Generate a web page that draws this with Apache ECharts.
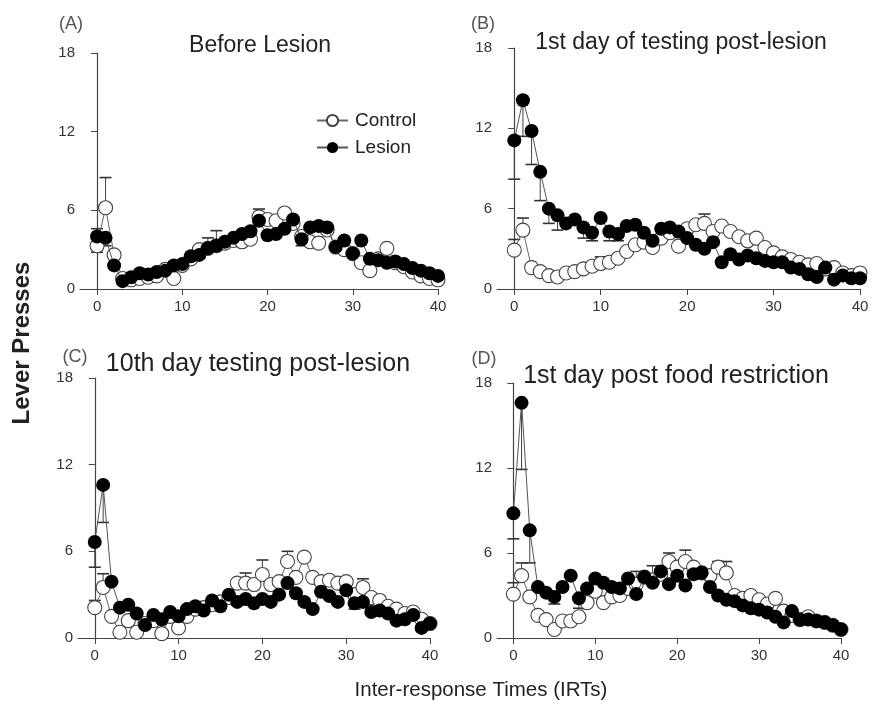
<!DOCTYPE html>
<html><head><meta charset="utf-8">
<script src="https://cdn.jsdelivr.net/npm/echarts@6/dist/echarts.min.js"></script>
<style>html,body{margin:0;padding:0;background:#fff}#c{width:873px;height:714px}</style>
</head><body><div id="c"></div>
<script>
const irt = [0,1,2,3,4,5,6,7,8,9,10,11,12,13,14,15,16,17,18,19,20,21,22,23,24,25,26,27,28,29,30,31,32,33,34,35,36,37,38,39,40];
const xTicks = [0,10,20,30,40];
const yTicks = [0,6,12,18];
const panelLetters = ['(A)','(B)','(C)','(D)'];
const panelTitles = ['Before Lesion','1st day of testing post-lesion','10th day testing post-lesion','1st day post food restriction'];

// Panel A
const aControl = [3.3,6.2,2.6,0.8,0.7,0.8,0.9,1.0,1.5,0.8,1.8,2.3,3.0,3.1,3.3,3.5,3.7,3.6,3.8,5.5,5.3,5.2,5.8,5.0,4.0,3.6,3.5,4.5,3.2,3.0,2.7,2.0,1.4,2.3,3.1,2.0,1.7,1.3,1.0,0.8,0.7];
const aLesion  = [4.0,3.9,1.8,0.6,0.9,1.2,1.1,1.3,1.4,1.8,1.9,2.5,2.6,3.1,3.3,3.6,3.9,4.2,4.4,5.2,4.1,4.2,4.6,5.3,3.8,4.7,4.8,4.7,3.2,3.7,2.7,3.7,2.3,2.2,2.0,2.1,1.9,1.6,1.4,1.2,1.0];
// Panel B
const bControl = [2.9,4.4,1.6,1.3,1.0,0.9,1.2,1.3,1.5,1.7,1.9,2.0,2.3,2.8,3.3,3.5,3.1,3.8,4.2,3.2,4.5,4.8,4.9,4.3,4.7,4.3,3.9,3.6,3.8,3.1,2.7,2.4,2.2,2.0,1.8,1.9,1.5,1.6,1.2,1.0,1.2];
const bLesion  = [11.1,14.1,11.8,8.75,6.0,5.5,4.9,5.2,4.6,4.2,5.3,4.3,4.1,4.7,4.8,4.2,3.6,4.5,4.6,4.3,3.8,3.3,3.0,3.5,2.0,2.6,2.2,2.5,2.3,2.1,2.0,2.0,1.6,1.5,1.1,0.9,1.6,0.7,1.0,0.8,0.8];
// Panel C
const cControl = [2.1,3.5,1.5,0.4,1.2,0.4,1.0,1.2,0.3,1.5,0.7,1.5,2.0,2.1,2.3,2.5,2.8,3.8,3.8,3.7,4.4,3.7,3.9,5.3,4.2,5.6,4.2,3.9,4.0,3.8,3.9,3.0,3.5,2.8,2.6,2.2,2.0,1.7,1.8,1.3,1.0];
const cLesion  = [6.65,10.6,3.9,2.1,2.3,1.7,0.9,1.6,1.3,1.8,1.5,2.0,2.2,1.9,2.6,2.2,3.0,2.5,2.7,2.4,2.7,2.5,3.0,3.8,3.1,2.5,2.0,3.2,2.9,2.5,3.3,2.4,2.5,1.8,1.9,1.7,1.2,1.3,1.6,0.7,1.0];
// Panel D
const dControl = [3.1,4.4,2.9,1.6,1.3,0.6,1.2,1.2,1.5,2.5,3.3,2.5,2.9,3.0,3.5,3.8,4.3,4.1,4.5,5.4,5.0,5.4,5.0,4.6,4.4,5.0,4.6,3.0,2.8,3.0,2.7,2.4,2.8,1.9,1.6,1.3,1.5,1.2,1.1,0.9,0.6];
const dLesion  = [8.8,16.6,7.6,3.6,3.2,2.9,3.6,4.4,2.8,3.5,4.2,3.9,3.6,3.5,4.2,3.1,4.3,3.9,4.7,3.8,4.4,3.7,4.5,4.6,3.6,3.0,2.7,2.6,2.3,2.1,2.0,1.8,1.5,1.1,1.9,1.3,1.3,1.2,1.1,0.9,0.6];

// visible error-bar ends: [irt, end value]
const aCtrlErr = [[1,8.5],[22,6.0]];
const aLesErr  = [[0,4.6],[0,2.8],[1,3.3],[13,3.9],[14,4.45],[19,6.1],[24,3.3]];
const bCtrlErr = [[0,3.7],[1,5.3],[10,2.4],[13,3.0],[22,5.6]];
const bLesErr  = [[0,8.2],[1,11.4],[2,9.3],[3,6.6],[4,4.9],[5,4.4],[8,3.8],[9,3.6],[11,3.6],[12,3.6]];
const cCtrlErr = [[0,2.6],[1,4.45],[2,1.7],[18,4.5],[20,5.4],[23,6.0],[32,4.1]];
const cLesErr  = [[0,4.9],[1,8.0],[31,2.0]];
const dCtrlErr = [[0,3.9],[1,5.3],[15,4.7],[17,5.1],[19,6.0],[21,6.2],[25,5.4],[26,5.4]];
const dLesErr  = [[0,7.0],[1,11.9],[2,5.3],[5,2.4],[8,2.1]];

const panels = [
  {ctrl:aControl, les:aLesion, ce:aCtrlErr, le:aLesErr, grid:{left:80, top:53, width:358, height:236}},
  {ctrl:bControl, les:bLesion, ce:bCtrlErr, le:bLesErr, grid:{left:497, top:48, width:363, height:241}},
  {ctrl:cControl, les:cLesion, ce:cCtrlErr, le:cLesErr, grid:{left:78, top:378, width:352, height:260}},
  {ctrl:dControl, les:dLesion, ce:dCtrlErr, le:dLesErr, grid:{left:497, top:383, width:344, height:255}}
];
const letterPos = [[71,24],[483,24],[75,357],[484,359]];
const titlePos = [[260,46],[681,43],[258,364],[676,376]];
const titleSize = [23,23,25,25];

const FONT = 'Liberation Sans, Arial, sans-serif';
const AX = '#444';

function errRender(params, api){
  const x = api.value(0), y = api.value(1), e = api.value(2);
  const p0 = api.coord([x,y]), p1 = api.coord([x,e]);
  return {type:'group', children:[
    {type:'line', shape:{x1:p0[0],y1:p0[1],x2:p1[0],y2:p1[1]}, style:{stroke:'#444',lineWidth:1}},
    {type:'line', shape:{x1:p1[0]-6,y1:p1[1],x2:p1[0]+6,y2:p1[1]}, style:{stroke:'#333',lineWidth:1.6}}
  ]};
}

const grids=[], xAxes=[], yAxes=[], series=[], graphics=[];
panels.forEach((p,i)=>{
  grids.push(p.grid);
  xAxes.push({type:'value', gridIndex:i, min:-2, max:40,
    axisLine:{lineStyle:{color:AX,width:1.2}},
    axisTick:{show:true, length:6, customValues:xTicks, lineStyle:{color:AX}},
    axisLabel:{customValues:xTicks, color:'#333', fontSize:15, fontFamily:FONT, margin:10},
    splitLine:{show:false}});
  yAxes.push({type:'value', gridIndex:i, min:0, max:18, interval:6,
    axisLine:{show:true, lineStyle:{color:AX,width:1.2}},
    axisTick:{show:true, length:6, lineStyle:{color:AX}},
    axisLabel:{color:'#333', fontSize:15, fontFamily:FONT, margin:5},
    splitLine:{show:false}});
  series.push({type:'custom', xAxisIndex:i, yAxisIndex:i, z:1, silent:true,
    renderItem:errRender, data:p.ce.map(d=>[d[0], p.ctrl[irt.indexOf(d[0])], d[1]])});
  series.push({type:'custom', xAxisIndex:i, yAxisIndex:i, z:1, silent:true,
    renderItem:errRender, data:p.le.map(d=>[d[0], p.les[irt.indexOf(d[0])], d[1]])});
  series.push({name:'Control', type:'line', xAxisIndex:i, yAxisIndex:i, z:3,
    data:irt.map((x,k)=>[x,p.ctrl[k]]), symbol:'circle', symbolSize:14,
    lineStyle:{color:'#666',width:1}, itemStyle:{color:'#fff',borderColor:'#444',borderWidth:1.1},
    animation:false});
  series.push({name:'Lesion', type:'line', xAxisIndex:i, yAxisIndex:i, z:4,
    data:irt.map((x,k)=>[x,p.les[k]]), symbol:'circle', symbolSize:14,
    lineStyle:{color:'#555',width:1}, itemStyle:{color:'#000',borderColor:'#000',borderWidth:0},
    animation:false});
  graphics.push({type:'text', x:letterPos[i][0], y:letterPos[i][1],
    style:{text:panelLetters[i], font:'18px '+FONT, fill:'#555', textAlign:'center', textVerticalAlign:'middle'}});
  graphics.push({type:'text', x:titlePos[i][0], y:titlePos[i][1],
    style:{text:panelTitles[i], font:titleSize[i]+'px '+FONT, fill:'#222', textAlign:'center', textVerticalAlign:'middle'}});
});
graphics.push({type:'text', x:22, y:343, rotation:Math.PI/2,
  style:{text:'Lever Presses', font:'bold 24px '+FONT, fill:'#222', textAlign:'center', textVerticalAlign:'middle'}});
graphics.push({type:'text', x:481, y:690,
  style:{text:'Inter-response Times (IRTs)', font:'20.5px '+FONT, fill:'#222', textAlign:'center', textVerticalAlign:'middle'}});

const chart = echarts.init(document.getElementById('c'), null, {renderer:'canvas'});
chart.setOption({
  animation:false,
  backgroundColor:'#fff',
  grid:grids, xAxis:xAxes, yAxis:yAxes, series:series, graphic:graphics,
  legend:{data:['Control','Lesion'], orient:'vertical', left:311, top:106, itemGap:8,
    itemWidth:31, itemHeight:14, textStyle:{fontSize:19, fontFamily:FONT, color:'#222', padding:[0,0,0,2]}}
});
</script></body></html>
